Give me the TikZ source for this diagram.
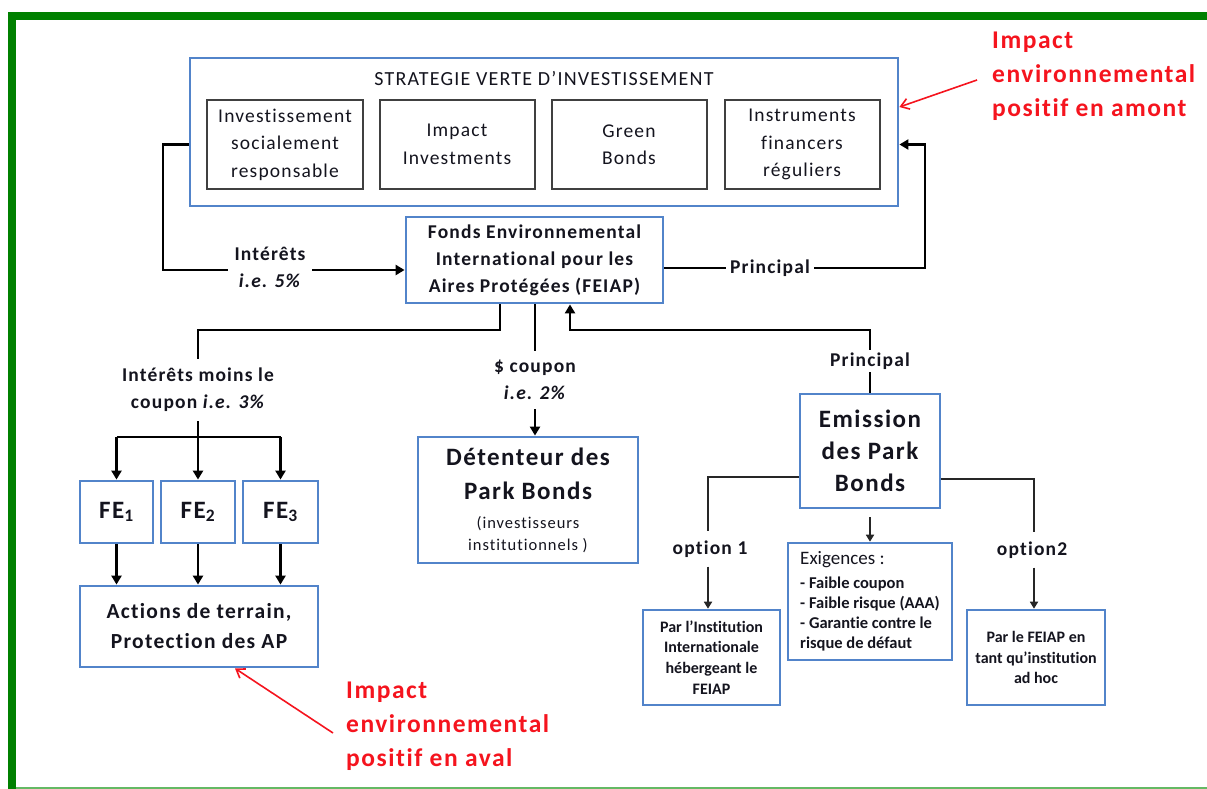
\documentclass[tikz,border=0pt]{standalone}
\usepackage{fontspec}
\setmainfont{Carlito}[LetterSpace=6, Ligatures={NoCommon,NoRare}]
\newfontfamily\mytightf{Carlito}[Ligatures={NoCommon,NoRare}]
\usetikzlibrary{arrows.meta}
\definecolor{myblue}{RGB}{82,132,202}
\definecolor{mygray}{RGB}{64,64,64}
\definecolor{mygreen}{RGB}{0,128,0}
\definecolor{mylgreen}{RGB}{100,185,100}
\definecolor{myred}{RGB}{245,20,30}
\definecolor{mytext}{RGB}{20,20,30}
\newcommand{\myfs}[2]{\fontsize{#1}{#2}\selectfont}
\newcommand{\mybase}{\myfs{19.5}{27.5}}
\newcommand{\mytitle}{\myfs{20}{24}}
\newcommand{\mylbl}{\bfseries\myfs{19.5}{27}}
\newcommand{\mybig}{\bfseries\myfs{25}{34}}
\newcommand{\myemis}{\bfseries\myfs{25}{32}}
\newcommand{\myact}{\bfseries\myfs{21.5}{30}}
\newcommand{\mysmall}{\mdseries\myfs{16.5}{22}}
\newcommand{\myopt}{\mytightf\bfseries\myfs{16}{20.7}}
\newcommand{\myexb}{\mytightf\bfseries\myfs{16.5}{20}}
\newcommand{\myexh}{\mdseries\myfs{19}{24}}
\newcommand{\myredf}{\bfseries\myfs{25.5}{34}}
\newcommand{\myfe}{\bfseries\myfs{25}{30}}
\tikzset{
  bbox/.style={draw=myblue, line width=2.8pt, fill=white, inner sep=0pt, align=center, text=mytext},
  gbox/.style={draw=mygray, line width=2pt, fill=white, inner sep=0pt, align=center, font=\mybase, text=mytext},
  lab/.style={fill=white, inner xsep=5pt, inner ysep=4pt, align=center, font=\mylbl, text=mytext},
  conn/.style={line width=2.8pt, black},
  thinconn/.style={line width=1.7pt, black!85},
  arr/.style={-{Triangle[length=9pt,width=10pt]}},
  sarr/.style={-{Triangle[length=7pt,width=8pt]}},
  redarr/.style={myred, line width=1.6pt, -{Straight Barb[length=8pt,width=11pt]}},
  redtxt/.style={text=myred, font=\myredf, align=left, anchor=west, inner sep=0pt},
}
\begin{document}
\begin{tikzpicture}[x=1pt,y=-1pt]
\useasboundingbox (0,0) rectangle (1207,789);
\fill[white] (0,0) rectangle (1207,789);
% green frame
\fill[mygreen] (8,12) rectangle (1207,20);
\fill[mygreen] (8,12) rectangle (16,789);
\fill[mylgreen] (16,786.5) rectangle (1207,789);

% strategy box
\node[bbox, minimum width=708, minimum height=148] (strat) at (544,132) {};
\node[font=\mytitle, text=mytext, inner sep=0pt] (title) at (544,79) {STRATEGIE VERTE D’INVESTISSEMENT};
\node[gbox, minimum width=156, minimum height=89] (isr) at (285,144.5) {Investissement\\socialement\\responsable};
\node[gbox, minimum width=155, minimum height=89] (impinv) at (457,144.5) {Impact\\Investments};
\node[gbox, minimum width=155, minimum height=89] (green) at (629,144.5) {Green\\Bonds};
\node[gbox, minimum width=155, minimum height=89] (instr) at (802,144.5) {Instruments\\financers\\réguliers};

% FEIAP
\node[bbox, minimum width=257, minimum height=86, font=\mylbl] (feiap) at (534.5,260) {Fonds Environnemental\\International pour les\\Aires Protégées (FEIAP)};

% FE boxes
\node[bbox, minimum width=73, minimum height=62, font=\myfe] (fe1) at (116.5,512) {FE\textsubscript{1}};
\node[bbox, minimum width=74, minimum height=62, font=\myfe] (fe2) at (198,512) {FE\textsubscript{2}};
\node[bbox, minimum width=75, minimum height=62, font=\myfe] (fe3) at (280.5,512) {FE\textsubscript{3}};
\node[bbox, minimum width=238, minimum height=81, font=\myact] (act) at (199,626.5) {Actions de terrain,\\Protection des AP};

% Detenteur
\node[bbox, minimum width=220, minimum height=126, font=\mybig] (det) at (528,500) {Détenteur des\\Park Bonds\\[-5pt]{\mysmall (investisseurs}\\[-12pt]{\mysmall institutionnels )}};

% Emission
\node[bbox, minimum width=140, minimum height=114, font=\myemis] (emis) at (870,451) {Emission\\des Park\\Bonds};

% option boxes
\node[bbox, line width=2.6pt, minimum width=137, minimum height=95, font=\myopt] (opt1) at (711.5,657.5) {Par l’Institution\\Internationale\\hébergeant le\\FEIAP};
\node[bbox, line width=2.6pt, minimum width=164, minimum height=117, font=\myexb, align=left] (exig) at (870,601.5) {{\myexh Exigences :}\\[4pt]- Faible coupon\\- Faible risque (AAA)\\- Garantie contre le\\risque de défaut};
\node[bbox, line width=2.6pt, minimum width=138, minimum height=95, font=\myopt] (opt2) at (1036,657.5) {Par le FEIAP en\\tant qu’institution\\ad hoc};

% coordinates
\coordinate (lb) at (163,270);
\coordinate (rb) at (925,268);
\coordinate (d1) at (500,330);
\coordinate (d2) at (198,330);
\coordinate (fork) at (198,437);
\coordinate (p1) at (870,330);
\coordinate (p2) at (570,330);

% connectors
\draw[conn,arr] (strat.west |- isr) -| (lb) -- (feiap.west |- lb);
\draw[conn,arr] (feiap.east |- rb) -- (rb) |- (strat.east |- isr);
\draw[conn] (feiap.south -| d1) -- (d1) -- (d2) -- (fork);
\draw[conn] (fork -| fe1) -- (fork -| fe3);
\draw[conn,arr] (fork -| fe1) -- (fe1.north);
\draw[conn,arr] (fork) -- (fe2.north);
\draw[conn,arr] (fork -| fe3) -- (fe3.north);
\draw[conn,arr] (fe1.south) -- (fe1.south |- act.north);
\draw[conn,arr] (fe2.south) -- (fe2.south |- act.north);
\draw[conn,arr] (fe3.south) -- (fe3.south |- act.north);
\draw[conn,arr] (feiap.south -| 535,0) -- (det.north -| 535,0);
\draw[conn,arr] (emis.north) -- (p1) -- (p2) -- (feiap.south -| p2);

% labels
\node[lab, inner xsep=7pt] (lint) at (270,267) {Intérêts\\\textit{i.e. 5\%}};
\node[lab, inner xsep=4pt] (lprin1) at (770,268) {Principal};
\node[lab, inner ysep=9pt] (lintm) at (198,390) {Intérêts moins le\\coupon \textit{i.e. 3\%}};
\node[lab, inner ysep=9pt] (lcoup) at (535,380) {\$ coupon\\\textit{i.e. 2\%}};
\node[lab, inner ysep=3pt] (lprin2) at (870,361) {Principal};

% emission outputs
\node[lab, inner ysep=9pt] (lop1) at (710,549) {option 1};
\node[lab, inner ysep=9pt] (lop2) at (1032,550) {option2};
\draw[thinconn] (emis.west |- 0,477) -| (lop1.north -| 708,0);
\draw[thinconn,sarr] (lop1.south -| 708,0) -- (opt1.north -| 708,0);
\draw[thinconn] (emis.east |- 0,479) -| (lop2.north -| 1034,0);
\draw[thinconn,sarr] (lop2.south -| 1034,0) -- (opt2.north -| 1034,0);
\draw[thinconn,sarr] ([yshift=-8pt]emis.south) -- (exig.north);

% red annotations
\node[redtxt] (redtop) at (992,76) {Impact\\environnemental\\positif en amont};
\node[redtxt] (redbot) at (346,726) {Impact\\environnemental\\positif en aval};
\coordinate (rt1) at (977,80);
\coordinate (rt2) at (333,733);
\draw[redarr] (rt1) -- (strat.east |- 0,107);
\draw[redarr] (rt2) -- (act.south -| 235,0);
\end{tikzpicture}
\end{document}
